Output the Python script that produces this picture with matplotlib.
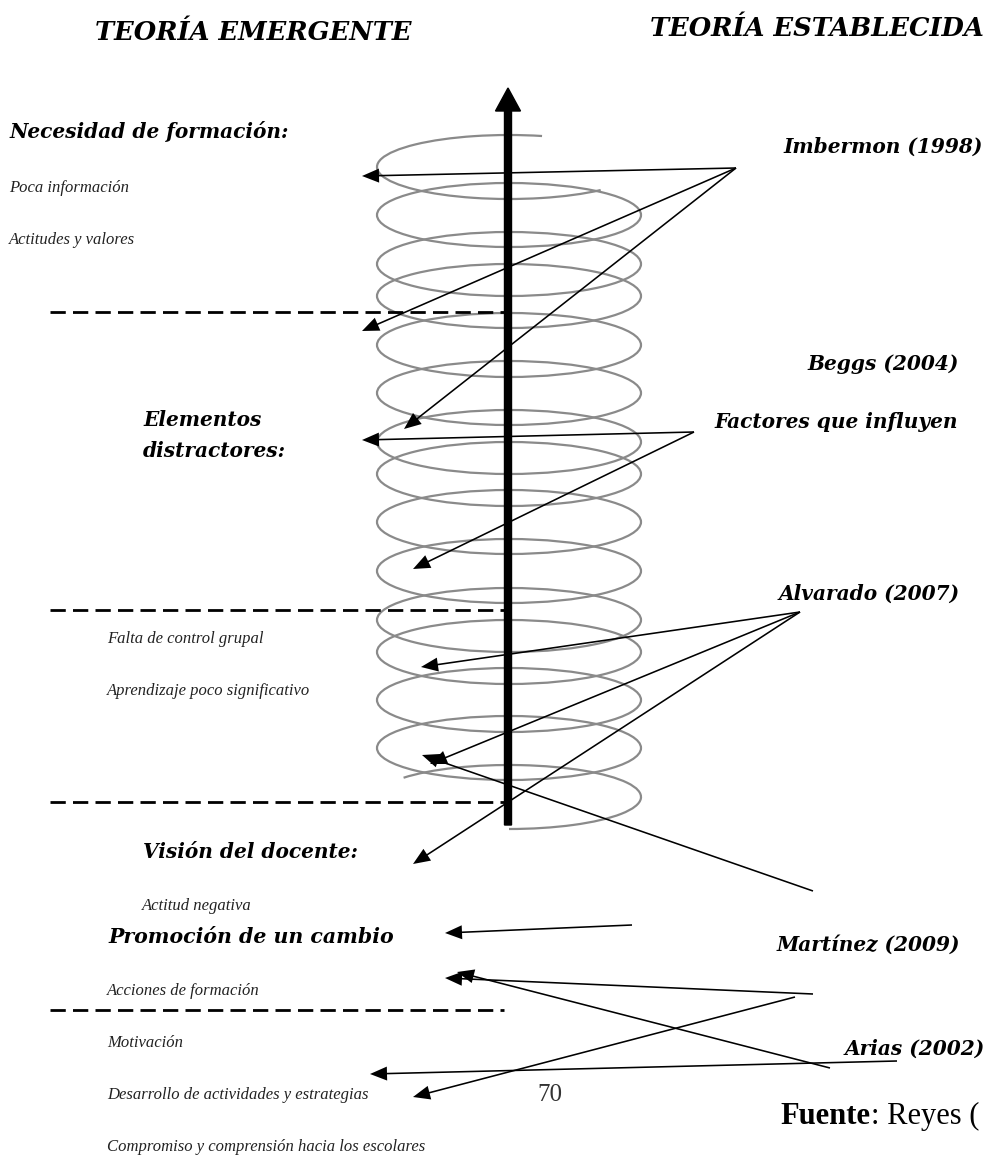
import matplotlib
matplotlib.use("Agg")
import numpy as np
import matplotlib.pyplot as plt
from matplotlib.patches import Ellipse, Arc, FancyArrow

# lienzo en pixeles (990 x 1157)
W, H = 990, 1157

# espiral: centros de cada vuelta (y)
loop_y = [215, 264, 296, 345, 393, 442, 474, 522, 571, 620, 652, 700, 748]
top_loop_y = 167
bottom_loop_y = 797
spiral_x = 509
loop_w, loop_h = 264, 64

# lineas punteadas que separan las categorias
dash_y = [312, 610, 802, 1010]

# flechas: (origen) -> (punta)
arrows = [
    ((736, 168), (362, 176)),   # Imbermon
    ((736, 168), (362, 331)),
    ((736, 168), (404, 429)),
    ((694, 432), (362, 440)),   # Factores que influyen
    ((694, 432), (413, 569)),
    ((800, 612), (421, 667)),   # Alvarado
    ((800, 612), (430, 764)),
    ((800, 612), (413, 864)),
    ((813, 891), (422, 755)),
    ((632, 925), (445, 933)),   # Martinez
    ((813, 994), (445, 978)),
    ((830, 1068), (457, 972)),
    ((795, 997), (413, 1097)),
    ((897, 1061), (370, 1074)),  # Arias
]

# textos de la teoria emergente
bold_left = [
    ("TEORÍA EMERGENTE", 95, 32, 18.5),
    ("Necesidad de formación:", 10, 132, 14.5),
    ("Elementos", 143, 420, 14.5),
    ("distractores:", 143, 451, 14.5),
    ("Visión del docente:", 143, 852, 14.5),
    ("Promoción de un cambio", 108, 937, 14.8),
]
items = [
    ("Poca información", 9, 188),
    ("Actitudes y valores", 9, 240),
    ("Falta de control grupal", 107, 639),
    ("Aprendizaje poco significativo", 107, 691),
    ("Actitud negativa", 142, 906),
    ("Acciones de formación", 107, 991),
    ("Motivación", 107, 1043),
    ("Desarrollo de actividades y estrategias", 107, 1095),
    ("Compromiso y comprensión hacia los escolares", 107, 1147),
]
# textos de la teoria establecida (alineados a la derecha)
bold_right = [
    ("TEORÍA ESTABLECIDA", 984, 28, 18.5),
    ("Imbermon (1998)", 983, 147, 14.5),
    ("Beggs (2004)", 959, 364, 14.5),
    ("Factores que influyen", 958, 422, 14.5),
    ("Alvarado (2007)", 960, 594, 14.5),
    ("Martínez (2009)", 960, 945, 14.5),
    ("Arias (2002)", 985, 1049, 14.5),
]


def true_angle(t):
    # Arc usa el angulo real sobre la elipse, no el parametrico
    t = np.radians(t)
    return np.degrees(np.arctan2(loop_h * np.sin(t), loop_w * np.cos(t)))


fig = plt.figure(figsize=(W / 100, H / 100), dpi=100)
ax = fig.add_axes([0, 0, 1, 1])
ax.set_xlim(0, W)
ax.set_ylim(H, 0)
ax.axis("off")

gray = "#8a8a8a"
ax.add_patch(Arc((spiral_x, top_loop_y), loop_w, loop_h,
                 theta1=true_angle(46), theta2=true_angle(-75.5) + 360,
                 color=gray, lw=1.6))
for y in loop_y:
    ax.add_patch(Ellipse((spiral_x, y), loop_w, loop_h, fill=False, ec=gray,
                         lw=1.6))
ax.add_patch(Arc((spiral_x, bottom_loop_y), loop_w, loop_h,
                 theta1=true_angle(217) + 360, theta2=450,
                 color=gray, lw=1.6))

for y in dash_y:
    ax.plot([50, 504], [y, y], color="black", lw=2, dashes=(5.5, 2.6))

# eje central
ax.add_patch(FancyArrow(508, 825, 0, -737, width=7, head_width=25,
                        head_length=23, length_includes_head=True,
                        color="black", zorder=5))

for (x0, y0), (x1, y1) in arrows:
    ax.add_patch(FancyArrow(x0, y0, x1 - x0, y1 - y0, width=1.6,
                            head_width=14, head_length=17,
                            length_includes_head=True, color="black", lw=0,
                            zorder=6))

bf = dict(family="DejaVu Serif", weight="bold", style="italic", va="center")
for t, x, y, s in bold_left:
    ax.text(x, y, t, ha="left", size=s, **bf)
for t, x, y, s in bold_right:
    ax.text(x, y, t, ha="right", size=s, **bf)
for t, x, y in items:
    ax.text(x, y, t, ha="left", va="center", family="Liberation Serif",
            style="italic", size=12, color="#222222")

ax.text(550, 1095, "70", ha="center", va="center", family="Liberation Serif",
        size=18, color="#333333")
ax.text(780, 1116, "Fuente", ha="left", va="center", family="Liberation Serif",
        weight="bold", size=22)
ax.text(871, 1116, ": Reyes (", ha="left", va="center",
        family="Liberation Serif", size=22)

fig.savefig("out.png", dpi=100)
